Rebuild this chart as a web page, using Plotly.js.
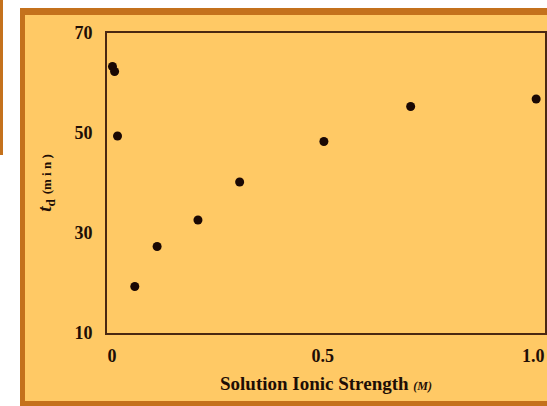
<!DOCTYPE html>
<html>
<head>
<meta charset="utf-8">
<script src="https://cdn.plot.ly/plotly-3.0.1.min.js"></script>
<style>html,body{margin:0;padding:0;background:#fff;}#chart{width:547px;height:406px;}</style>
</head>
<body>
<div id="chart"></div>
<script>
// Data
const ionicStrength = [0.001, 0.006, 0.013, 0.054, 0.107, 0.204, 0.303, 0.503, 0.709, 1.007];
const tdMinutes    = [63.3, 62.3, 49.4, 19.3, 27.3, 32.6, 40.2, 48.3, 55.3, 56.8];
const xTickVals = [0, 0.5, 1.0];
const xTickText = ['0', '0.5', '1.0'];
const yTickVals = [10, 30, 50, 70];

const W = 547, H = 406;
const M = {l: 107, r: 2, t: 33, b: 73};
const PW = W - M.l - M.r, PH = H - M.t - M.b;
const px = v => (v - M.l) / PW;
const py = v => (H - M.b - v) / PH;

const frameDark = '#C4711C';
const frameFill = '#FFC965';
const axisCol = '#4a2812';
const font = {family: 'Liberation Serif, DejaVu Serif, serif', color: '#1e0e06', size: 18, weight: 'bold'};

const trace = {
  x: ionicStrength, y: tdMinutes, type: 'scatter', mode: 'markers',
  marker: {size: 9, color: '#1a0804'}, hoverinfo: 'none', cliponaxis: false
};

const layout = {
  width: W, height: H,
  margin: M,
  paper_bgcolor: '#ffffff',
  plot_bgcolor: 'rgba(0,0,0,0)',
  showlegend: false,
  font: font,
  shapes: [
    {type: 'rect', xref: 'paper', yref: 'paper', layer: 'below',
     x0: px(0), x1: px(3), y0: py(0), y1: py(155), fillcolor: frameDark, line: {width: 0}},
    {type: 'rect', xref: 'paper', yref: 'paper', layer: 'below',
     x0: px(20), x1: px(560), y0: py(8), y1: py(407), fillcolor: frameDark, line: {width: 0}},
    {type: 'rect', xref: 'paper', yref: 'paper', layer: 'below',
     x0: px(25), x1: px(560), y0: py(15), y1: py(401), fillcolor: frameFill, line: {width: 0}}
  ],
  xaxis: {
    range: [-0.012, 1.028], showgrid: false, zeroline: false,
    showline: true, mirror: true, linecolor: axisCol, linewidth: 2,
    tickvals: xTickVals, ticktext: xTickText,
    ticks: 'outside', ticklen: 5, tickcolor: 'rgba(0,0,0,0)',
    tickfont: font,
    title: {text: 'Solution Ionic Strength <span style="font-size:12px"><i>(M)</i></span>', font: {...font, size: 19}, standoff: 12}
  },
  yaxis: {
    range: [10, 70], showgrid: false, zeroline: false,
    showline: true, mirror: true, linecolor: axisCol, linewidth: 2,
    tickvals: yTickVals,
    ticks: 'outside', ticklen: 9, tickcolor: 'rgba(0,0,0,0)',
    tickfont: font,
    title: {text: '<i>t</i><sub>d</sub> <span style="font-size:13px">(m i n )</span>', font: {...font, size: 19}, standoff: 18}
  }
};

Plotly.newPlot('chart', [trace], layout, {staticPlot: true});
</script>
</body>
</html>
